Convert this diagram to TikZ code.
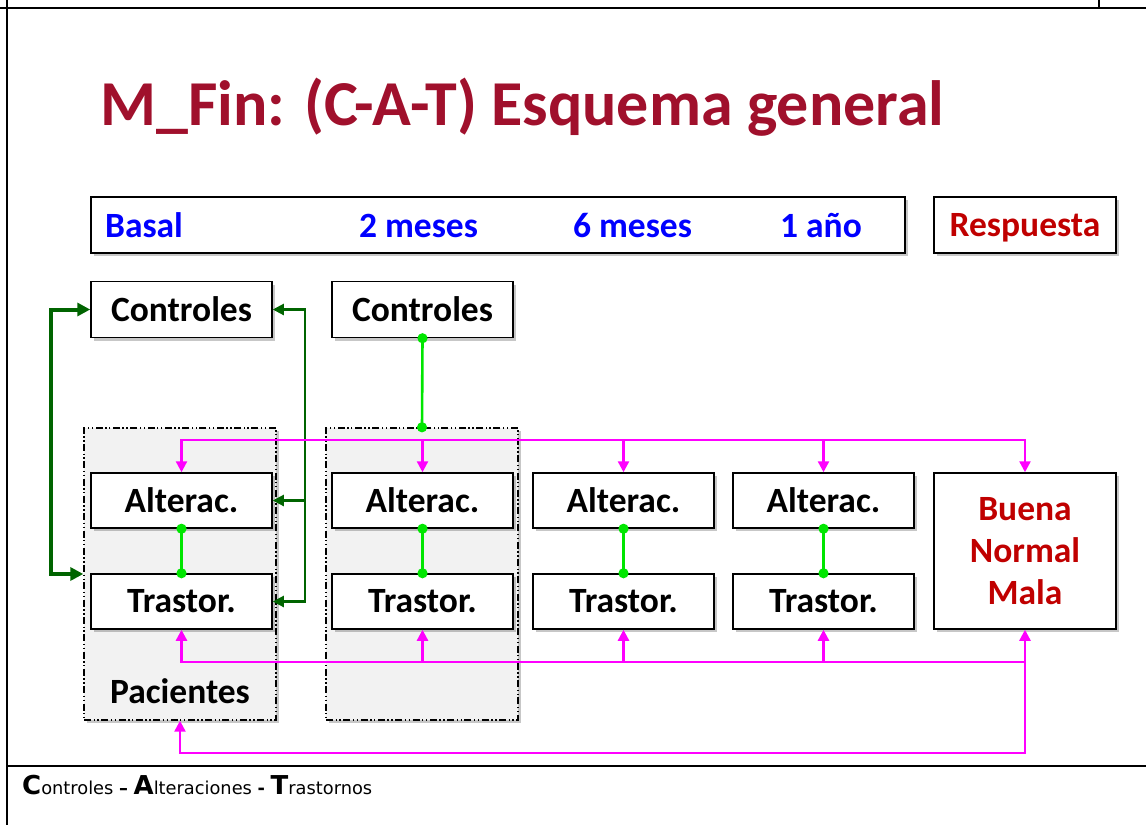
\documentclass[tikz,border=0pt]{standalone}
\usepackage{fontspec}
\setmainfont{Carlito}
\newfontfamily\footfont{DejaVu Sans}
\usetikzlibrary{arrows.meta,shadows,calc}
\definecolor{titlered}{RGB}{160,16,44}
\definecolor{resred}{RGB}{192,0,0}
\definecolor{timeblue}{RGB}{0,0,255}
\definecolor{linkmag}{RGB}{255,0,255}
\definecolor{pairgreen}{RGB}{0,230,0}
\definecolor{ctrlgreen}{RGB}{0,100,0}
\definecolor{groupfill}{RGB}{242,242,242}

\begin{document}
\begin{tikzpicture}[x=1pt,y=-1pt,
  shadebox/.style={drop shadow={shadow xshift=3pt,shadow yshift=-3pt,opacity=0.22,fill=black}},
  boxfont/.style={font=\bfseries\fontsize{35.5}{42}\selectfont},
  box/.style={draw=black,line width=1.5pt,fill=white,inner sep=0pt,shadebox,boxfont},
  smallbox/.style={box,minimum width=181pt,minimum height=55pt},
  groupbox/.style={draw=black,line width=1.4pt,fill=groupfill,shadebox,
    dash pattern=on 7pt off 2.5pt on 1.4pt off 2.5pt on 1.4pt off 2.5pt,
    minimum width=192pt,minimum height=292pt,inner sep=0pt},
  timetext/.style={text=timeblue,boxfont,inner sep=0pt,anchor=base},
  frameline/.style={draw=black,line width=2.2pt},
  maglink/.style={draw=linkmag,line width=2.4pt},
  magtip/.style={-{Triangle[length=11pt,width=11pt]}},
  magtips/.style={{Triangle[length=11pt,width=11pt]}-{Triangle[length=11pt,width=11pt]}},
  pairlink/.style={draw=pairgreen,line width=2.6pt,{Circle[length=10pt]}-{Circle[length=10pt]},
    shorten <=-5pt,shorten >=-5pt},
  ctrlthick/.style={draw=ctrlgreen,line width=4pt,
    {Triangle[length=13pt,width=13pt]}-{Triangle[length=13pt,width=13pt]}},
  ctrlthin/.style={draw=ctrlgreen,line width=2.1pt},
  ctrltip/.style={-{Triangle[length=11pt,width=11pt]}},
  ctrltips/.style={{Triangle[length=11pt,width=11pt]}-{Triangle[length=11pt,width=11pt]}}
]
\useasboundingbox (0,0) rectangle (1146,825);

% page frame
\draw[frameline] (0,8) -- (1146,8);
\draw[frameline] (1099,0) -- (1099,8);
\draw[frameline] (7,0) -- (7,825);
\draw[frameline] (7,766) -- (1146,766);

% title
\node[anchor=base west,inner sep=0pt,text=titlered,font=\bfseries\fontsize{64}{70}\selectfont]
  (title) at (100,125) {M\_Fin: (C-A-T) Esquema general};

% time line header
\node[box,minimum width=814pt,minimum height=56pt] (head) at (498,225) {};
\node[timetext] (tbasal) at (144,237) {Basal};
\node[timetext] (t2m) at (418.5,237) {2 meses};
\node[timetext] (t6m) at (632.5,237) {6 meses};
\node[timetext] (t1a) at (821,237) {1 año};
\node[box,minimum width=182pt,minimum height=56pt,text=resred,text depth=0pt] (reshead) at (1025,225) {Respuesta};

% patient groups
\node[groupbox] (g1) at (180,574) {};
\node[groupbox] (g2) at (422,574) {};
\node[boxfont,anchor=base,inner sep=0pt] (pac) at (180,703) {Pacientes};

% controls
\node[smallbox,minimum height=56pt] (c1) at (181.5,309.5) {Controles};
\node[smallbox,minimum height=56pt] (c2) at (422.5,309.5) {Controles};

% alterations and disorders per time point
\node[smallbox] (a1) at (181.5,500.5) {Alterac.};
\node[smallbox] (a2) at (422.5,500.5) {Alterac.};
\node[smallbox] (a3) at (623.5,500.5) {Alterac.};
\node[smallbox] (a4) at (823.5,500.5) {Alterac.};
\node[smallbox] (t1) at (181.5,601.5) {Trastor.};
\node[smallbox] (t2) at (422.5,601.5) {Trastor.};
\node[smallbox] (t3) at (623.5,601.5) {Trastor.};
\node[smallbox] (t4) at (823.5,601.5) {Trastor.};

% outcome
\node[box,minimum width=182pt,minimum height=156pt,text=resred,align=center]
  (resp) at (1025,551) {Buena\\Normal\\Mala};

% alteration / disorder pairs
\foreach \i in {1,2,3,4} \draw[pairlink] (a\i.south) -- (t\i.north);
\draw[pairlink] (c2.south) -- (g2.north);

% control links
\draw[ctrlthick] (c1.west) -- ++(-39,0) |- (g1.west);
\draw[ctrlthin,ctrltips] (c1.east) -- ++(32,0) coordinate (cright) |- (t1.east);
\draw[ctrlthin,ctrltip] (cright |- a1.east) -- (a1.east);

% outcome links, upper bus
\draw[maglink,magtips] (a1.north) -- ++(0,-32) coordinate (ubus) -| (resp.north);
\foreach \n in {a2,a3,a4} \draw[maglink,magtip] (ubus -| \n.north) -- (\n.north);

% outcome links, lower bus
\draw[maglink,magtips] (t1.south) -- ++(0,32) coordinate (lbus) -| (resp.south);
\foreach \n in {t2,t3,t4} \draw[maglink,magtip] (lbus -| \n.south) -- (\n.south);
\draw[maglink,magtip] (lbus -| resp.south) -- ++(0,91) -| (g1.south);

% footer legend
\node[anchor=base west,inner sep=0pt,font=\footfont\fontsize{17.8}{20}\selectfont] (legend) at (22,794)
  {{\fontsize{26}{28}\selectfont\bfseries C}ontroles \textbf{–} {\fontsize{26}{28}\selectfont\bfseries A}lteraciones \textbf{-} {\fontsize{26}{28}\selectfont\bfseries T}rastornos};
\end{tikzpicture}
\end{document}
